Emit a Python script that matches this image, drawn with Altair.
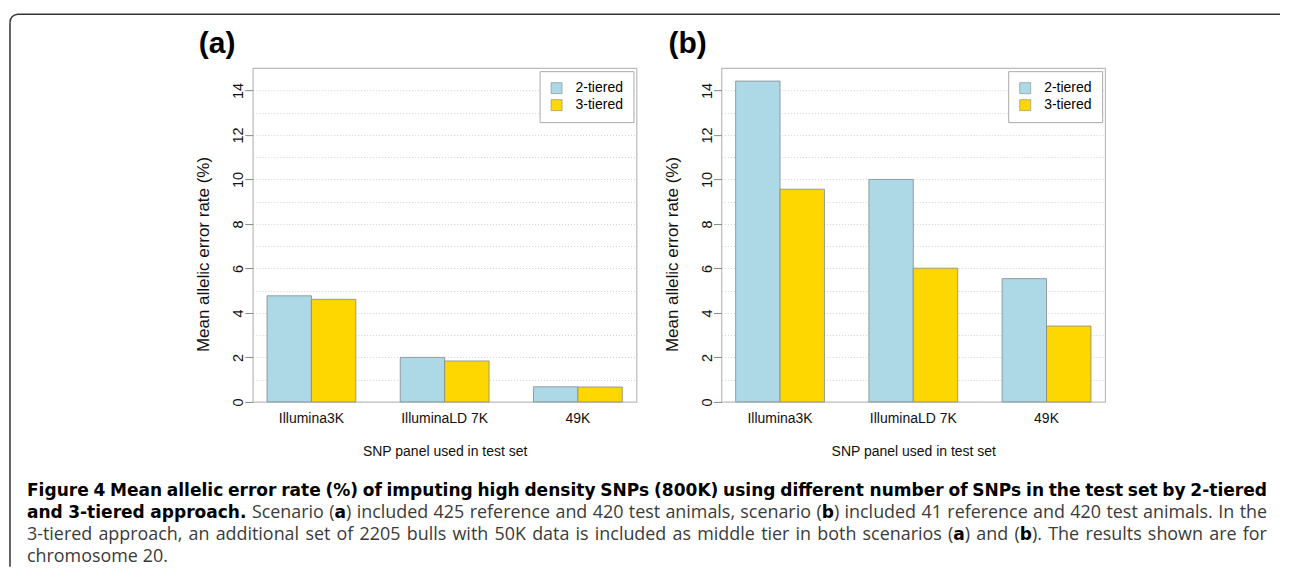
import os
import struct
import altair as alt
import pandas as pd

# ---------------- data ----------------
panels = ["Illumina3K", "IlluminaLD 7K", "49K"]
series = ["2-tiered", "3-tiered"]
a_two = [4.77, 2.00, 0.68]
a_three = [4.61, 1.84, 0.67]
b_two = [14.42, 10.00, 5.54]
b_three = [9.56, 6.01, 3.41]
colors = ["#ADD8E6", "#FFD700"]
grid_values = list(range(0, 15))

x_title = "SNP panel used in test set"
y_title = "Mean allelic error rate (%)"

# caption: list of (text, bold) runs per line
cap_line1 = [("Figure 4 Mean allelic error rate (%) of imputing high density SNPs (800K) using different number of SNPs in the test set by 2-tiered", True)]
cap_line2 = [("and 3-tiered approach.", True), (" Scenario (", False), ("a", True),
             (") included 425 reference and 420 test animals, scenario (", False), ("b", True),
             (") included 41 reference and 420 test animals. In the", False)]
cap_line3 = [("3-tiered approach, an additional set of 2205 bulls with 50K data is included as middle tier in both scenarios (", False),
             ("a", True), (") and (", False), ("b", True), ("). The results shown are for", False)]
cap_line4 = [("chromosome 20.", False)]

# page geometry of panel (a) plot origin
OX, OY = 252, 67
W, H = 384, 334

# ---------------- text measuring (for caption justification) ----------------
def find_font(names):
    roots = ["/usr/share/fonts", "/usr/local/share/fonts", os.path.expanduser("~/.fonts"),
             os.path.expanduser("~/.local/share/fonts")]
    for root in roots:
        if not os.path.isdir(root):
            continue
        for d, _, files in os.walk(root):
            for n in names:
                if n in files:
                    return os.path.join(d, n)
    return None


def load_measure(path):
    try:
        data = open(path, "rb").read()
        num = struct.unpack(">H", data[4:6])[0]
        tables = {}
        for i in range(num):
            tag, cs, off, ln = struct.unpack(">4sIII", data[12 + 16 * i:28 + 16 * i])
            tables[tag.decode("latin1")] = off
        head = tables["head"]
        upem = struct.unpack(">H", data[head + 18:head + 20])[0]
        hhea = tables["hhea"]
        nhm = struct.unpack(">H", data[hhea + 34:hhea + 36])[0]
        hm = tables["hmtx"]
        adv = [struct.unpack(">H", data[hm + 4 * i:hm + 4 * i + 2])[0] for i in range(nhm)]
        cm = tables["cmap"]
        n = struct.unpack(">H", data[cm + 2:cm + 4])[0]
        sub = None
        for i in range(n):
            pid, eid, off = struct.unpack(">HHI", data[cm + 4 + 8 * i:cm + 12 + 8 * i])
            fmt = struct.unpack(">H", data[cm + off:cm + off + 2])[0]
            if fmt == 4:
                sub = cm + off
                if pid == 3 and eid == 1:
                    break
        if sub is None:
            return None
        segx2 = struct.unpack(">H", data[sub + 6:sub + 8])[0]
        seg = segx2 // 2
        ends = struct.unpack(">%dH" % seg, data[sub + 14:sub + 14 + segx2])
        starts = struct.unpack(">%dH" % seg, data[sub + 16 + segx2:sub + 16 + 2 * segx2])
        deltas = struct.unpack(">%dh" % seg, data[sub + 16 + 2 * segx2:sub + 16 + 3 * segx2])
        rpos = sub + 16 + 3 * segx2
        roffs = struct.unpack(">%dH" % seg, data[rpos:rpos + segx2])

        def gid(c):
            for i in range(seg):
                if ends[i] >= c:
                    if starts[i] > c:
                        return 0
                    if roffs[i] == 0:
                        return (c + deltas[i]) & 0xFFFF
                    addr = rpos + 2 * i + roffs[i] + 2 * (c - starts[i])
                    g = struct.unpack(">H", data[addr:addr + 2])[0]
                    return (g + deltas[i]) & 0xFFFF if g else 0
            return 0

        def width(s):
            return sum(adv[min(gid(ord(ch)), nhm - 1)] for ch in s) / upem
        return width
    except Exception:
        return None


bold_choices = [("DejaVu Sans", ["DejaVuSans-Bold.ttf"]),
                ("Liberation Sans", ["LiberationSans-Bold.ttf"])]
reg_choices = [("Open Sans", ["OpenSans-Regular.ttf", "OpenSans[wdth,wght].ttf", "OpenSans-VariableFont_wdth,wght.ttf"]),
               ("Liberation Sans", ["LiberationSans-Regular.ttf"]),
               ("DejaVu Sans", ["DejaVuSans.ttf"])]


def pick(choices, fallback_em):
    for fam, files in choices:
        p = find_font(files)
        if p:
            m = load_measure(p)
            if m:
                return fam, m
    return choices[0][0], (lambda s: fallback_em * len(s))


bold_font, bold_w = pick(bold_choices, 0.62)
reg_font, reg_w = pick(reg_choices, 0.47)
REG_RATIO = 1.05  # regular size relative to bold size


def to_words(runs):
    words = [[]]
    for text, bold in runs:
        parts = text.split(" ")
        for i, p in enumerate(parts):
            if i > 0:
                words.append([])
            if p:
                words[-1].append((p, bold))
    return [w for w in words if w]


def run_w(text, bold, s):
    return bold_w(text) * s if bold else reg_w(text) * s * REG_RATIO


def space_w(s):
    return reg_w(" ") * s * REG_RATIO


CX0, CX1 = 26, 1267
lines = [cap_line1, cap_line2, cap_line3, cap_line4]
baselines = [495, 517, 539, 561]


def natural(runs, s):
    ws = to_words(runs)
    return sum(run_w(t, b, s) for w in ws for t, b in w) + space_w(s) * (len(ws) - 1)


S = min((CX1 - CX0) / natural(l, 1.0) for l in lines[:3])
S = min(S, 17.5)

one = pd.DataFrame({"k": [0]})


def txt(text, px, py, size, bold=False, font="Liberation Sans", color="#111", align="left"):
    return alt.Chart(one).mark_text(
        text=text, align=align, baseline="alphabetic", font=font,
        fontSize=size, fontWeight="bold" if bold else "normal", color=color
    ).encode(x=alt.value(px), y=alt.value(py))


caption_layers = []
for li, runs in enumerate(lines):
    ws = to_words(runs)
    wwidths = [sum(run_w(t, b, S) for t, b in w) for w in ws]
    if li < 3 and len(ws) > 1:
        gap = (CX1 - CX0 - sum(wwidths)) / (len(ws) - 1)
    else:
        gap = space_w(S)
    x = CX0
    for w, ww in zip(ws, wwidths):
        xr = x
        for t, b in w:
            caption_layers.append(txt(t, xr - OX, baselines[li] - OY,
                                      S if b else S * REG_RATIO, bold=b,
                                      font=bold_font if b else reg_font,
                                      color="#000" if b else "#3a3a3a"))
            xr += run_w(t, b, S)
        x += ww + gap


def bars(df):
    return alt.Chart(df).mark_bar(stroke="#80898c", strokeWidth=0.8).encode(
        x=alt.X("panel:N", sort=panels,
                scale=alt.Scale(paddingInner=1 / 3, paddingOuter=0.32 / 3),
                axis=alt.Axis(title=x_title, labelAngle=0, ticks=False, domain=False,
                              labelPadding=10, labelFontSize=14, titleFontSize=14,
                              titleY=54, titleBaseline="alphabetic", grid=False)),
        xOffset=alt.XOffset("series:N", sort=series,
                            scale=alt.Scale(paddingInner=0, paddingOuter=0)),
        y=alt.Y("value:Q", scale=alt.Scale(domain=[0, 15], nice=False, zero=True),
                axis=alt.Axis(title=y_title, values=grid_values,
                              labelExpr="datum.value % 2 === 0 ? datum.label : ''",
                              tickOpacity={"condition": {"test": "datum.value % 2 === 0", "value": 1}, "value": 0},
                              tickSize=8, tickColor="#888", domain=False,
                              labelAngle=270, labelAlign="center", labelBaseline="alphabetic",
                              labelPadding=2, labelFontSize=14.5,
                              grid=True, gridDash=[1, 2], gridColor="#cfcfcf", gridWidth=1,
                              titleAngle=270, titleX=-49, titleY=186, titleAlign="center",
                              titleBaseline="middle", titleFontSize=17)),
        color=alt.Color("series:N", scale=alt.Scale(domain=series, range=colors),
                        legend=alt.Legend(title=None, orient="top-right", offset=3, padding=10,
                                          strokeColor="#aaaaaa", fillColor="white",
                                          symbolType="square", symbolSize=121,
                                          symbolStrokeColor="#7a8a8e", symbolStrokeWidth=0.6,
                                          labelFontSize=14, labelOffset=12, rowPadding=3,
                                          labelFont="Liberation Sans")),
    )


def make_df(two, three):
    rows = []
    for p, v2, v3 in zip(panels, two, three):
        rows.append({"panel": p, "series": series[0], "value": v2})
        rows.append({"panel": p, "series": series[1], "value": v3})
    return pd.DataFrame(rows)


# ----- panel (a) with frame + caption -----
layers_a = [bars(make_df(a_two, a_three)),
            txt("(a)", 198 - OX, 52 - OY, 30, bold=True, color="#000")]

frame_col = "#333333"
layers_a.append(alt.Chart(one).mark_rule(color=frame_col, strokeWidth=1.5).encode(
    x=alt.value(9 - OX), y=alt.value(21 - OY), y2=alt.value(566 - OY)))
layers_a.append(alt.Chart(one).mark_rule(color=frame_col, strokeWidth=1.5).encode(
    x=alt.value(17 - OX), x2=alt.value(1280 - OX), y=alt.value(13 - OY)))
layers_a.append(alt.Chart(one).mark_arc(color=frame_col).encode(
    theta=alt.value(4.7124), theta2=alt.value(6.2832),
    radius=alt.value(8.75), radius2=alt.value(7.25),
    x=alt.value(17 - OX), y=alt.value(21 - OY)))
layers_a.extend(caption_layers)

panel_a = alt.layer(*layers_a).properties(width=W, height=H)

panel_b = alt.layer(
    bars(make_df(b_two, b_three)),
    txt("(b)", 668 - 721, 52 - OY, 30, bold=True, color="#000"),
).properties(width=W, height=H)

chart = alt.hconcat(panel_a, panel_b, spacing=85, bounds="flush").resolve_scale(
    color="independent"
).properties(
    padding={"left": 0, "top": 4, "right": 0, "bottom": 0}
).configure(
    font="Liberation Sans"
).configure_axis(
    labelFont="Liberation Sans", titleFont="Liberation Sans",
    labelColor="#111", titleColor="#111", titleFontWeight="normal"
).configure_view(
    stroke="#bbbbbb", strokeWidth=1.2
)

chart.save("out.html", embed_options={"renderer": "svg", "actions": False})
